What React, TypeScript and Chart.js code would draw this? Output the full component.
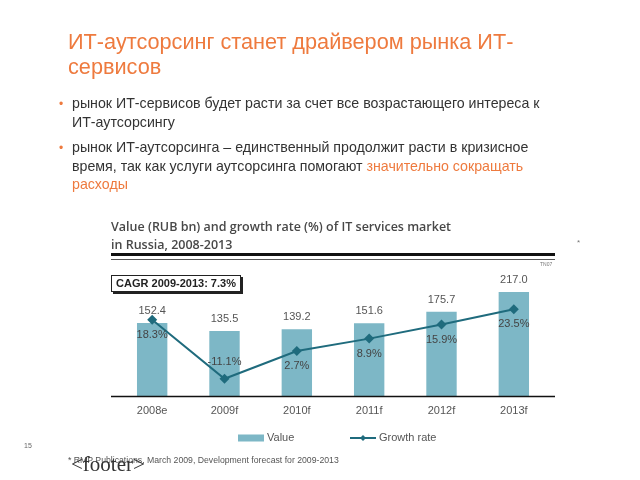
import React, { useEffect, useRef } from "react";
import { Chart, registerables } from "chart.js";

Chart.register(...registerables);

const categories = ["2008e", "2009f", "2010f", "2011f", "2012f", "2013f"];
const marketValue = [152.4, 135.5, 139.2, 151.6, 175.7, 217.0];
const growthRate = [18.3, -11.1, 2.7, 8.9, 15.9, 23.5];
const valueLabels = ["152.4", "135.5", "139.2", "151.6", "175.7", "217.0"];
const growthLabels = ["18.3%", "-11.1%", "2.7%", "8.9%", "15.9%", "23.5%"];
const legendLabels = ["Value", "Growth rate"];

const BAR_COLOR = "#7DB7C6";
const LINE_COLOR = "#1F6B7D";
const ORANGE = "#EE7A3E";

const overlayPlugin = {
  id: "overlay",
  afterDatasetsDraw(chart: any) {
    const ctx = chart.ctx;
    const area = chart.chartArea;
    const barMeta = chart.getDatasetMeta(0);
    const lineMeta = chart.getDatasetMeta(1);
    ctx.save();
    ctx.strokeStyle = "#111";
    ctx.lineWidth = 1.5;
    ctx.beginPath();
    ctx.moveTo(area.left - 5, area.bottom + 0.5);
    ctx.lineTo(area.right + 5, area.bottom + 0.5);
    ctx.stroke();

    ctx.font = "11px 'Liberation Sans', Arial, sans-serif";
    ctx.textAlign = "center";
    ctx.textBaseline = "middle";
    ctx.fillStyle = "#555";
    barMeta.data.forEach((el: any, i: number) => {
      ctx.fillText(valueLabels[i], el.x, el.y - 12);
    });
    ctx.fillStyle = "#444";
    lineMeta.data.forEach((el: any, i: number) => {
      const dy = growthRate[i] < 0 ? -17 : 15;
      ctx.fillText(growthLabels[i], el.x, el.y + dy);
    });
    ctx.fillStyle = "#555";
    const xs = chart.scales.x;
    categories.forEach((c, i) => {
      ctx.fillText(c, xs.getPixelForValue(i), area.bottom + 15);
    });
    const ly = area.bottom + 42;
    ctx.fillStyle = BAR_COLOR;
    ctx.fillRect(238, ly - 3.5, 26, 7);
    ctx.fillStyle = "#555";
    ctx.textAlign = "left";
    ctx.fillText(legendLabels[0], 267, ly);
    ctx.strokeStyle = LINE_COLOR;
    ctx.lineWidth = 2;
    ctx.beginPath();
    ctx.moveTo(350, ly);
    ctx.lineTo(376, ly);
    ctx.stroke();
    ctx.fillStyle = LINE_COLOR;
    ctx.beginPath();
    ctx.moveTo(363, ly - 3);
    ctx.lineTo(366, ly);
    ctx.lineTo(363, ly + 3);
    ctx.lineTo(360, ly);
    ctx.closePath();
    ctx.fill();
    ctx.fillStyle = "#555";
    ctx.fillText(legendLabels[1], 379, ly);
    ctx.restore();
  },
};

export default function App() {
  const ref = useRef<HTMLCanvasElement | null>(null);
  useEffect(() => {
    if (!ref.current) return;
    const chart = new Chart(ref.current, {
      type: "bar",
      data: {
        labels: categories,
        datasets: [
          {
            type: "bar",
            label: legendLabels[0],
            data: marketValue,
            yAxisID: "y",
            backgroundColor: BAR_COLOR,
            barPercentage: 0.42,
            categoryPercentage: 1,
            order: 2,
          } as any,
          {
            type: "line",
            label: legendLabels[1],
            data: growthRate,
            yAxisID: "y1",
            borderColor: LINE_COLOR,
            backgroundColor: LINE_COLOR,
            borderWidth: 2,
            pointStyle: "rectRot",
            pointRadius: 5,
            pointBackgroundColor: LINE_COLOR,
            pointBorderWidth: 0,
            tension: 0,
            order: 1,
          } as any,
        ],
      },
      options: {
        animation: false,
        responsive: false,
        devicePixelRatio: 1,
        layout: { padding: { left: 116, right: 90, top: 270, bottom: 84 } },
        scales: {
          x: { display: false },
          y: { display: false, min: 0, max: 263 },
          y1: { display: false, min: -19.7, max: 43.1 },
        },
        plugins: { legend: { display: false }, tooltip: { enabled: false } },
      },
      plugins: [overlayPlugin],
    });
    return () => chart.destroy();
  }, []);

  const sans = "'Liberation Sans', Arial, sans-serif";
  const abs = (o: React.CSSProperties): React.CSSProperties => ({ position: "absolute", margin: 0, whiteSpace: "nowrap", ...o });
  const bullet: React.CSSProperties = { fontFamily: sans, fontSize: 14.2, lineHeight: "18.5px" };

  return (
    <div style={{ position: "fixed", left: 0, top: 0, width: 640, height: 480, background: "#fff", overflow: "hidden" }}>
      <canvas ref={ref} width={640} height={480} style={{ position: "absolute", left: 0, top: 0, width: 640, height: 480 }} />
      <div style={abs({ left: 68, top: 29, fontFamily: sans, fontSize: 21.7, lineHeight: "25px", color: ORANGE })}>
        ИТ-аутсорсинг станет драйвером рынка ИТ-
        <br />
        сервисов
      </div>
      <div style={abs({ ...bullet, left: 59, top: 95, fontSize: 12, color: ORANGE })}>•</div>
      <div style={abs({ ...bullet, left: 72, top: 94, color: "#333" })}>
        рынок ИТ-сервисов будет расти за счет все возрастающего интереса к
        <br />
        ИТ-аутсорсингу
      </div>
      <div style={abs({ ...bullet, left: 59, top: 139, fontSize: 12, color: ORANGE })}>•</div>
      <div style={abs({ ...bullet, left: 72, top: 138, color: "#333" })}>
        рынок ИТ-аутсорсинга – единственный продолжит расти в кризисное
        <br />
        время, так как услуги аутсорсинга помогают <span style={{ color: ORANGE }}>значительно сокращать</span>
        <br />
        <span style={{ color: ORANGE }}>расходы</span>
      </div>
      <div style={abs({ left: 111, top: 218, fontFamily: "'Open Sans', sans-serif", fontWeight: 600, fontSize: 12.5, lineHeight: "17.5px", color: "#484848" })}>
        Value (RUB bn) and growth rate (%) of IT services market
        <br />
        in Russia, 2008-2013
      </div>
      <div style={abs({ left: 111, top: 253, width: 444, height: 3, background: "#111" })} />
      <div style={abs({ left: 111, top: 259, width: 444, height: 1, background: "#555" })} />
      <div style={abs({ left: 540, top: 261, fontFamily: sans, fontSize: 5, color: "#777" })}>TN07</div>
      <div style={abs({ left: 577, top: 238, fontFamily: sans, fontSize: 8, color: "#777" })}>*</div>
      <div
        style={abs({
          left: 111,
          top: 275,
          width: 128,
          height: 15,
          border: "1px solid #222",
          boxShadow: "2px 2px 0 #222",
          fontFamily: sans,
          fontWeight: 700,
          fontSize: 11,
          lineHeight: "15px",
          textAlign: "center",
          color: "#222",
          background: "#fff",
        })}
      >
        CAGR 2009-2013: 7.3%
      </div>
      <div style={abs({ left: 24, top: 442, fontFamily: sans, fontSize: 7, color: "#666" })}>15</div>
      <div style={abs({ left: 68, top: 455, fontFamily: sans, fontSize: 8.7, color: "#555" })}>
        * RMP Publications, March 2009, Development forecast for 2009-2013
      </div>
      <div style={abs({ left: 71, top: 452, fontFamily: "'Liberation Serif', 'Times New Roman', serif", fontSize: 21, lineHeight: "24px", color: "#333" })}>
        {"<footer>"}
      </div>
    </div>
  );
}
